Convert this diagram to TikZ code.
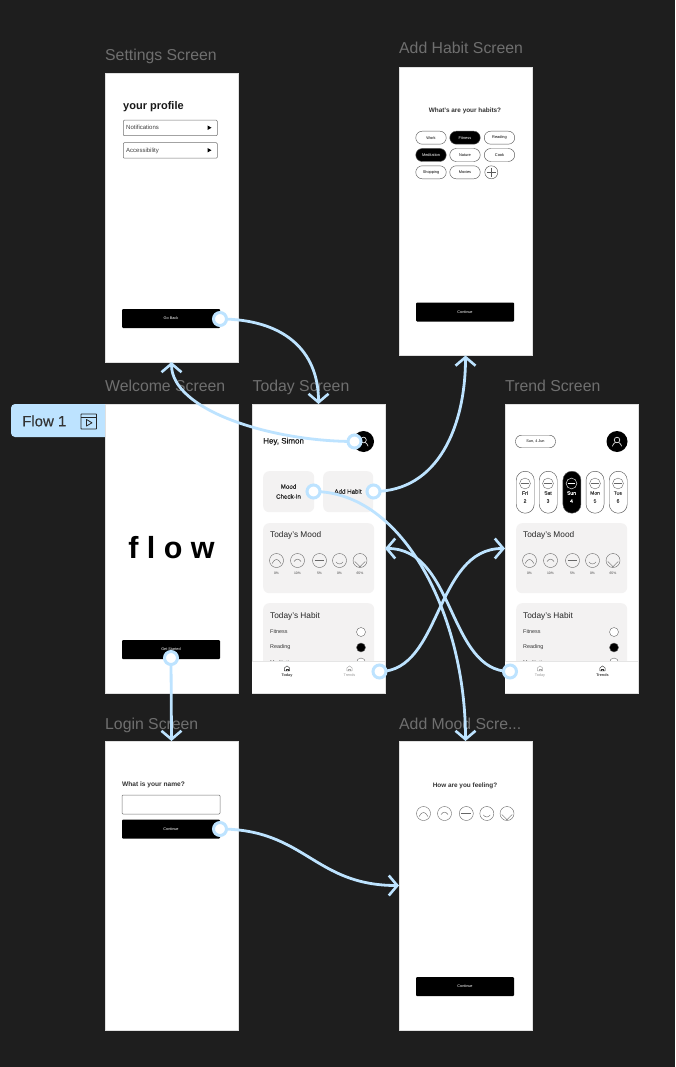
\documentclass[tikz,border=0pt]{standalone}
\usepackage{fontspec}
\setmainfont{Liberation Sans}
\usetikzlibrary{arrows.meta}
\definecolor{canvas}{HTML}{1E1E1E}
\definecolor{flowblue}{HTML}{BDE3FF}
\definecolor{cardgray}{HTML}{F3F2F2}
\definecolor{titlegray}{HTML}{6F6F6F}
\tikzset{
  screen/.style={fill=white,draw=black!12,line width=.3pt,inner sep=0pt,outer sep=0pt,minimum width=133pt,anchor=north west},
  title/.style={text=titlegray,font=\fontsize{15.8}{16}\selectfont,anchor=base west,inner sep=0pt},
  btn/.style={fill=black,rounded corners=1pt,minimum width=98pt,minimum height=19pt,inner sep=0pt,text=white,font=\fontsize{3.8}{4}\selectfont},
  card/.style={fill=cardgray,rounded corners=6pt,inner sep=0pt,anchor=north west},
  hd/.style={font=\fontsize{8.3}{9}\selectfont,text=black!85,anchor=west,inner sep=0pt},
  small/.style={font=\fontsize{5.4}{6}\selectfont,text=black!80,anchor=west,inner sep=0pt},
  rowtext/.style={font=\fontsize{6}{7}\selectfont,text=black!75,anchor=west,inner sep=0pt},
  tiny/.style={font=\fontsize{3.4}{4}\selectfont,text=black!75,inner sep=0pt},
  pill/.style={draw=black!65,line width=.45pt,rounded corners=6.5pt,minimum width=30.5pt,minimum height=13pt,inner sep=0pt,font=\fontsize{3.9}{4}\selectfont},
  pillon/.style={pill,fill=black,text=white},
  day/.style={draw=black!65,line width=.45pt,rounded corners=9pt,minimum width=18pt,minimum height=42pt,inner sep=0pt,anchor=north west},
  dayon/.style={day,fill=black},
  check/.style={circle,draw=black!60,line width=.4pt,minimum size=9pt,inner sep=0pt},
  flowline/.style={draw=flowblue,line width=2.8pt,-{Straight Barb[length=8.5pt,width=20pt,line width=2.6pt]}},
  flowdot/.style={circle,draw=flowblue,fill=white,line width=3pt,minimum size=13pt,inner sep=0pt},
  rowbox/.style={draw=black!55,line width=.5pt,rounded corners=1pt,minimum width=94pt,minimum height=15.5pt,inner sep=0pt,anchor=north west},
}
\newcommand{\moodface}[5][black!60]{%
  \begin{scope}[shift={(#2,#3)},scale=#4]
    \draw[#1,line width=.4pt] (0,0) circle[radius=1];
    \ifcase#5\or
      \draw[#1,line width=.4pt] (-.62,.42) .. controls (-.25,-.35) and (.25,-.35) .. (.62,.42);
    \or
      \draw[#1,line width=.4pt] (-.5,.15) .. controls (-.2,-.3) and (.2,-.3) .. (.5,.15);
    \or
      \draw[#1,line width=.5pt] (-.7,0) -- (.7,0);
    \or
      \draw[#1,line width=.4pt] (-.5,.2) .. controls (-.2,.6) and (.2,.6) .. (.5,.2);
    \or
      \draw[#1,line width=.4pt] (-.75,.15) .. controls (-.3,.5) and (-.1,.85) .. (0,.9) .. controls (.1,.85) and (.3,.5) .. (.75,.15);
    \fi
  \end{scope}}
\newcommand{\avatar}[2]{%
  \fill[black] (#1,#2) circle[radius=10.5pt];
  \begin{scope}[shift={(#1,#2)}]
    \draw[white,line width=.6pt] (0,-1.5) circle[radius=2.8pt];
    \draw[white,line width=.6pt] (-4.6,4.8) .. controls (-3.5,1.6) and (-2,1.2) .. (-1.6,1);
    \draw[white,line width=.6pt] (4.6,4.8) .. controls (3.5,1.6) and (2,1.2) .. (1.6,1);
  \end{scope}}
\newcommand{\navhome}[3]{%
  \begin{scope}[shift={(#1,#2)}]
    \draw[#3,line width=.4pt,line join=round] (-2.6,2.4) -- (-2.6,-.6) -- (0,-2.6) -- (2.6,-.6) -- (2.6,2.4) -- cycle;
    \draw[#3,line width=.4pt] (-1,2.4) -- (-1,.6) -- (1,.6) -- (1,2.4);
  \end{scope}}
\begin{document}
\begin{tikzpicture}[x=1pt,y=-1pt]
\useasboundingbox (0,0) rectangle (675,1067);
\fill[canvas] (0,0) rectangle (675,1067);

% titles
\node[title] (tSettings) at (105,61) {Settings Screen};
\node[title] (tHabit) at (399,54) {Add Habit Screen};
\node[title] (tWelcome) at (105,391.5) {Welcome Screen};
\node[title] (tToday) at (252.5,391.5) {Today Screen};
\node[title] (tTrend) at (505,391.5) {Trend Screen};
\node[title] (tLogin) at (105,729) {Login Screen};
\node[title] (tMood) at (399,729) {Add Mood Scre...};

% flow tab
\fill[flowblue,rounded corners=4pt] (11,404) rectangle (120,437);
\node[anchor=west,inner sep=0pt,text=black!80,font=\fontsize{15}{15}\selectfont\addfontfeature{FakeBold=.2}] (flowtab) at (22,421) {Flow 1};
\draw[black!85,line width=.9pt,rounded corners=.6pt] (81,414) rectangle (96.5,429);
\draw[black!85,line width=.9pt] (81,417.5) -- (96.5,417.5);
\draw[black!85,line width=.8pt,line join=round] (86.5,419.5) -- (92,422.8) -- (86.5,426) -- cycle;

% screens
\node[screen,minimum height=289pt] (settings) at (105,73) {};
\node[screen,minimum height=288.5pt] (addhabit) at (399,67) {};
\node[screen,minimum height=289pt] (welcome) at (105,404) {};
\node[screen,minimum height=289pt] (today) at (252,404) {};
\node[screen,minimum height=289pt] (trend) at (505,404) {};
\node[screen,minimum height=289pt] (login) at (105,741) {};
\node[screen,minimum height=289pt] (addmood) at (399,741) {};

% settings content
\node[anchor=west,inner sep=0pt,font=\fontsize{11}{12}\selectfont\bfseries,text=black!90] (profile) at (123,106.5) {your profile};
\node[rowbox] (notif) at (123,120) {};
\node[rowtext] (notifT) at (126,127.8) {Notifications};
\fill[black] (207.5,125.5) -- (211.5,127.7) -- (207.5,130) -- cycle;
\node[rowbox] (access) at (123,142.5) {};
\node[rowtext] (accessT) at (126,150.5) {Accessibility};
\fill[black] (207.5,148) -- (211.5,150.2) -- (207.5,152.5) -- cycle;
\node[btn] (goback) at (171,318.5) {Go Back};

% add habit content
\node[inner sep=0pt,font=\fontsize{6.4}{7}\selectfont\bfseries,text=black!80] (habitQ) at (465,110.5) {What's are your habits?};
\node[pill] (h1) at (431,137.7) {Work};
\node[pillon] (h2) at (465,137.7) {Fitness};
\node[pill] (h3) at (499.5,137.7) {Reading};
\node[pillon] (h4) at (431,155) {Meditation};
\node[pill] (h5) at (465,155) {Nature};
\node[pill] (h6) at (499.5,155) {Cook};
\node[pill] (h7) at (431,172.3) {Shopping};
\node[pill] (h8) at (465,172.3) {Movies};
\node[circle,draw=black!65,line width=.45pt,minimum size=13pt,inner sep=0pt] (hplus) at (491.3,172.3) {};
\draw[black!65,line width=.35pt] (486.8,172.3) -- (495.8,172.3) (491.3,167.8) -- (491.3,176.8);
\node[btn] (contHabit) at (465,312) {Continue};

% welcome content
\node[inner sep=0pt,font=\fontsize{30.5}{32}\selectfont\bfseries] (flowword) at (171.5,548) {f l o w};
\node[btn] (getstarted) at (171,649.5) {Get Started};

% login content
\node[anchor=west,inner sep=0pt,font=\fontsize{6.6}{7}\selectfont\bfseries,text=black!80] (nameQ) at (122,785) {What is your name?};
\node[draw=black!55,line width=.5pt,rounded corners=1pt,minimum width=98pt,minimum height=19pt,inner sep=0pt] (nameBox) at (171,804.5) {};
\node[btn] (contLogin) at (171,829) {Continue};

% add mood content
\node[inner sep=0pt,font=\fontsize{6.4}{7}\selectfont\bfseries,text=black!80] (moodQ) at (465,785.5) {How are you feeling?};
\moodface{423.5}{813.5}{7}{1}
\moodface{444.5}{813.5}{7}{2}
\moodface{466.3}{813.5}{7}{3}
\moodface{486.8}{813.5}{7}{4}
\moodface{507}{813.5}{7}{5}
\node[btn] (contMood) at (465,986.5) {Continue};

% today content
\node[anchor=west,inner sep=0pt,font=\fontsize{8}{9}\selectfont\addfontfeature{FakeBold=.3},text=black!90] (hey) at (263,441.5) {Hey, Simon};
\avatar{363.5}{441.5}
\node[card,minimum width=51pt,minimum height=41pt] (moodCard) at (263,471) {};
\node[inner sep=0pt,align=center,font=\fontsize{6.2}{10}\selectfont\addfontfeature{FakeBold=.3},text=black!85] (moodT) at (288.5,491.5) {Mood\\Check-In};
\node[card,minimum width=50pt,minimum height=41pt] (habitCard) at (323,471) {};
\node[inner sep=0pt,font=\fontsize{6.2}{7}\selectfont\addfontfeature{FakeBold=.3},text=black!85] (habitT) at (348,491.5) {Add Habit};
\node[card,minimum width=111pt,minimum height=70pt] (tMoodCard) at (263,523) {};
\node[hd] (tMoodH) at (270,535.5) {Today's Mood};
\moodface{276.5}{560.5}{7}{1}
\moodface{297.5}{560.5}{7}{2}
\moodface{319.5}{560.5}{7}{3}
\moodface{339.5}{560.5}{7}{4}
\moodface{360}{560.5}{7}{5}
\node[tiny] (ap1) at (276.5,573) {0\%};
\node[tiny] (ap2) at (297.5,573) {10\%};
\node[tiny] (ap3) at (319.5,573) {5\%};
\node[tiny] (ap4) at (339.5,573) {0\%};
\node[tiny] (ap5) at (360,573) {65\%};
\node[card,minimum width=111pt,minimum height=70pt] (tHabitCard) at (263,603) {};
\node[hd] (tHabitH) at (270,616) {Today's Habit};
\node[small] (af) at (270,631.5) {Fitness};
\node[small] (ar) at (270,647) {Reading};
\node[small] (am) at (270,662.5) {Meditation};
\node[check,fill=white] (acf) at (361,632) {};
\node[check,fill=black] (acr) at (361,647.5) {};
\node[check,fill=white] (acm) at (361,662.5) {};
\fill[white] (252.2,661) rectangle (384.8,692.8);
\draw[black!10,line width=.4pt] (252.2,661) -- (384.8,661);
\navhome{287}{668.5}{black!80}
\navhome{349.5}{668.5}{black!35}
\node[tiny,font=\fontsize{3.8}{4}\selectfont\bfseries] (aNavT) at (287,675.5) {Today};
\node[tiny,font=\fontsize{3.8}{4}\selectfont,text=black!40] (aNavR) at (349.5,675.5) {Trends};

% trend content
\node[draw=black!65,line width=.45pt,rounded corners=6pt,minimum width=40pt,minimum height=12.5pt,inner sep=0pt,font=\fontsize{3.8}{4}\selectfont] (datePill) at (535.5,441.5) {Sun, 4 Jun};
\avatar{617}{441.5}
\node[day] (d1) at (516,471) {};
\node[day] (d2) at (539,471) {};
\node[dayon] (d3) at (562.7,471) {};
\node[day] (d4) at (585.8,471) {};
\node[day] (d5) at (609,471) {};
\moodface{525}{483.5}{5.4}{3}
\moodface{548}{483.5}{5.4}{3}
\moodface[white]{571.5}{483.5}{5.4}{3}
\moodface{595}{483.5}{5.4}{3}
\moodface{618}{483.5}{5.4}{3}
\node[tiny,align=center,font=\fontsize{5}{8}\selectfont\addfontfeature{FakeBold=.2}] (dt1) at (525,497) {Fri\\2};
\node[tiny,align=center,font=\fontsize{5}{8}\selectfont\addfontfeature{FakeBold=.2}] (dt2) at (548,497) {Sat\\3};
\node[tiny,align=center,text=white,font=\fontsize{5}{8}\selectfont\addfontfeature{FakeBold=.2}] (dt3) at (571.5,497) {Sun\\4};
\node[tiny,align=center,font=\fontsize{5}{8}\selectfont\addfontfeature{FakeBold=.2}] (dt4) at (595,497) {Mon\\5};
\node[tiny,align=center,font=\fontsize{5}{8}\selectfont\addfontfeature{FakeBold=.2}] (dt5) at (618,497) {Tue\\6};
\node[card,minimum width=111pt,minimum height=70pt] (rMoodCard) at (516,523) {};
\node[hd] (rMoodH) at (523,535.5) {Today's Mood};
\moodface{529.5}{560.5}{7}{1}
\moodface{550.5}{560.5}{7}{2}
\moodface{572.5}{560.5}{7}{3}
\moodface{592.5}{560.5}{7}{4}
\moodface{613}{560.5}{7}{5}
\node[tiny] (bp1) at (529.5,573) {0\%};
\node[tiny] (bp2) at (550.5,573) {10\%};
\node[tiny] (bp3) at (572.5,573) {5\%};
\node[tiny] (bp4) at (592.5,573) {0\%};
\node[tiny] (bp5) at (613,573) {65\%};
\node[card,minimum width=111pt,minimum height=70pt] (rHabitCard) at (516,603) {};
\node[hd] (rHabitH) at (523,616) {Today's Habit};
\node[small] (bf) at (523,631.5) {Fitness};
\node[small] (br) at (523,647) {Reading};
\node[small] (bm) at (523,662.5) {Meditation};
\node[check,fill=white] (bcf) at (614,632) {};
\node[check,fill=black] (bcr) at (614,647.5) {};
\node[check,fill=white] (bcm) at (614,662.5) {};
\fill[white] (505.2,661) rectangle (637.8,692.8);
\draw[black!10,line width=.4pt] (505.2,661) -- (637.8,661);
\navhome{540}{668.5}{black!35}
\navhome{602.5}{668.5}{black!80}
\node[tiny,font=\fontsize{3.8}{4}\selectfont,text=black!40] (bNavT) at (540,675.5) {Today};
\node[tiny,font=\fontsize{3.8}{4}\selectfont\bfseries] (bNavR) at (602.5,675.5) {Trends};

% flow start points
\coordinate (pSettings) at (220,319);
\coordinate (pAvatar) at (354.5,441.5);
\coordinate (pHabit) at (373.5,491.5);
\coordinate (pMood) at (313.5,491.5);
\coordinate (pToTrend) at (379.5,671.5);
\coordinate (pToToday) at (510,671.5);
\coordinate (pStart) at (171,658);
\coordinate (pLogin) at (220,829);

% connectors
\draw[flowline] (pSettings) .. controls +(62,0) and +(0,-55) .. (today.north);
\draw[flowline] (pAvatar) .. controls +(-84,0) and +(0,48) .. (settings.south);
\draw[flowline] (pHabit) .. controls +(65,0) and +(0,70) .. (addhabit.south);
\draw[flowline] (pMood) .. controls +(90,0) and +(0,-125) .. (addmood.north);
\draw[flowline] (pToTrend) .. controls +(62,0) and +(-70,0) .. (trend.west);
\draw[flowline] (pToToday) .. controls +(-62,0) and +(70,0) .. (today.east);
\draw[flowline] (pStart) -- (login.north);
\draw[flowline] (pLogin) .. controls +(85,0) and +(-85,0) .. (addmood.west);

% dots
\node[flowdot] (dSettings) at (pSettings) {};
\node[flowdot] (dAvatar) at (pAvatar) {};
\node[flowdot] (dHabit) at (pHabit) {};
\node[flowdot] (dMood) at (pMood) {};
\node[flowdot] (dToTrend) at (pToTrend) {};
\node[flowdot] (dToToday) at (pToToday) {};
\node[flowdot] (dStart) at (pStart) {};
\node[flowdot] (dLogin) at (pLogin) {};
\end{tikzpicture}
\end{document}
